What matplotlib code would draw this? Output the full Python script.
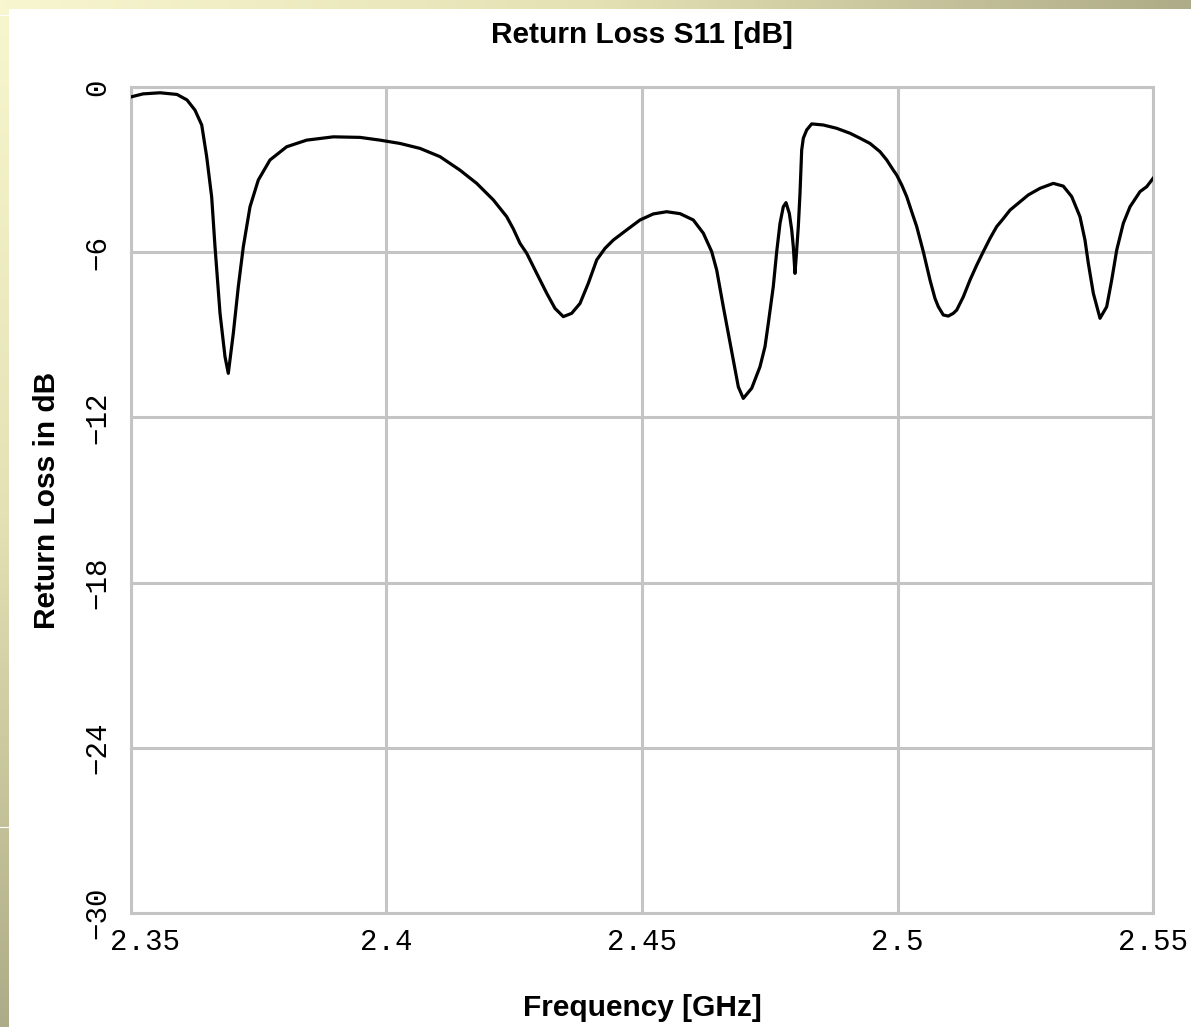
#!/usr/bin/env python3

import numpy as np
import matplotlib
matplotlib.use('Agg')
from matplotlib import pyplot as plt
from matplotlib.colors import LinearSegmentedColormap
import matplotlib.transforms as mtransforms


# S11 trace (GHz, dB)
FREQ = [
    2.35000, 2.35235, 2.35568, 2.35900, 2.36096, 2.36252, 2.36384, 2.36481,
    2.36579, 2.36644, 2.36742, 2.36840, 2.36904, 2.37002, 2.37100, 2.37198,
    2.37329, 2.37491, 2.37720, 2.38047, 2.38438, 2.38959, 2.39481, 2.39873,
    2.40264, 2.40656, 2.41047, 2.41438, 2.41765, 2.42090, 2.42352, 2.42481,
    2.42613, 2.42744, 2.42940, 2.43135, 2.43297, 2.43460, 2.43624, 2.43787,
    2.43949, 2.44114, 2.44276, 2.44438, 2.44701, 2.44961, 2.45221, 2.45483,
    2.45744, 2.46004, 2.46200, 2.46364, 2.46462, 2.46591, 2.46689, 2.46787,
    2.46885, 2.46982, 2.47147, 2.47309, 2.47407, 2.47472, 2.47569, 2.47636,
    2.47701, 2.47765, 2.47818, 2.47883, 2.47930, 2.47961, 2.47994, 2.48027,
    2.48059, 2.48092, 2.48125, 2.48157, 2.48223, 2.48321, 2.48548, 2.48810,
    2.49070, 2.49266, 2.49462, 2.49658, 2.49789, 2.49918, 2.49985, 2.50083,
    2.50180, 2.50278, 2.50376, 2.50505, 2.50636, 2.50734, 2.50799, 2.50896,
    2.50994, 2.51092, 2.51159, 2.51288, 2.51419, 2.51550, 2.51679, 2.51810,
    2.51941, 2.52071, 2.52202, 2.52397, 2.52560, 2.52789, 2.53049, 2.53244,
    2.53409, 2.53571, 2.53669, 2.53734, 2.53832, 2.53963, 2.54094, 2.54192,
    2.54290, 2.54419, 2.54550, 2.54746, 2.54877, 2.55000,
]
S11 = [
    -0.36, -0.25, -0.21, -0.27, -0.47, -0.84, -1.38, -2.53,
    -4.00, -5.80, -8.22, -9.80, -10.40, -8.95, -7.25, -5.80,
    -4.35, -3.38, -2.65, -2.17, -1.93, -1.81, -1.83, -1.93,
    -2.05, -2.23, -2.53, -3.02, -3.50, -4.10, -4.71, -5.15,
    -5.68, -6.04, -6.77, -7.49, -8.04, -8.34, -8.22, -7.86,
    -7.13, -6.28, -5.86, -5.56, -5.19, -4.83, -4.61, -4.53,
    -4.60, -4.83, -5.31, -5.98, -6.65, -7.98, -8.95, -9.92,
    -10.89, -11.31, -10.94, -10.16, -9.43, -8.58, -7.25, -5.98,
    -4.95, -4.35, -4.20, -4.59, -5.19, -5.80, -6.77, -5.92,
    -5.07, -3.86, -2.29, -1.86, -1.56, -1.34, -1.38, -1.50,
    -1.68, -1.86, -2.05, -2.35, -2.65, -3.02, -3.20, -3.56,
    -3.98, -4.53, -5.07, -5.98, -7.01, -7.68, -7.98, -8.28,
    -8.32, -8.22, -8.10, -7.62, -7.01, -6.47, -5.98, -5.50,
    -5.07, -4.78, -4.47, -4.17, -3.92, -3.68, -3.50, -3.60,
    -3.98, -4.71, -5.56, -6.40, -7.49, -8.40, -7.98, -7.01,
    -5.92, -4.95, -4.35, -3.80, -3.62, -3.32,
]

X_TICKS = [2.35, 2.4, 2.45, 2.5, 2.55]
X_TICK_LABELS = ['2.35', '2.4', '2.45', '2.5', '2.55']
Y_TICKS = [0, -6, -12, -18, -24, -30]
Y_TICK_LABELS = ['0', '\u22126', '\u221212', '\u221218', '\u221224', '\u221230']

GRID_COLOR = '#c4c4c4'
TICK_FONT = 'Liberation Mono'
LABEL_FONT = 'Liberation Sans'
LABEL_SIZE = 21.5

W, H = 1191, 1027
fig = plt.figure(figsize=(W / 100, H / 100), dpi=100)
fig.patch.set_facecolor('white')

# slide background strips (top and left edges)
band = LinearSegmentedColormap.from_list('band', ['#f8f6cf', '#e4e1b4', '#aeac88'])
grad = np.linspace(0, 1, 256)
ax_top = fig.add_axes([0, 1 - 9 / H, 1, 9 / H])
ax_top.imshow(grad[None, :], aspect='auto', cmap=band, extent=(0, 1, 0, 1))
ax_top.axis('off')
ax_left = fig.add_axes([0, 0, 9 / W, 1 - 9 / H])
ax_left.imshow(grad[:, None], aspect='auto', cmap=band, extent=(0, 1, 0, 1), origin='upper')
ax_left.axhline(1 - 6 / (H - 9), color='white', lw=0.8)
ax_left.axhline(1 - 818 / (H - 9), color='white', lw=0.8)
ax_left.axis('off')

ax = fig.add_axes([131 / W, 1 - 913 / H, (1153 - 131) / W, (913 - 87) / H])
ax.plot(FREQ, S11, color='black', lw=2.3, solid_joinstyle='round', zorder=3)

ax.set_xlim(2.35, 2.55)
ax.set_ylim(-30, 0)
ax.set_xticks(X_TICKS)
ax.set_xticklabels(X_TICK_LABELS, fontfamily=TICK_FONT, fontsize=21)
ax.set_yticks(Y_TICKS)
ax.set_yticklabels(Y_TICK_LABELS, fontfamily=TICK_FONT, fontsize=21,
                   rotation=90, va='center')
ax.tick_params(axis='both', length=0)
ax.tick_params(axis='x', pad=11)
ax.tick_params(axis='y', pad=14)
ax.grid(True, color=GRID_COLOR, lw=2.2, zorder=1)
for sp in ax.spines.values():
    sp.set_color(GRID_COLOR)
    sp.set_linewidth(2.2)

ax.set_title('Return Loss S11 [dB]', fontfamily=LABEL_FONT, fontweight='bold',
             fontsize=LABEL_SIZE, pad=32)
ax.set_xlabel('Frequency [GHz]', fontfamily=LABEL_FONT, fontweight='bold',
              fontsize=LABEL_SIZE, labelpad=27)
ax.set_ylabel('Return Loss in dB', fontfamily=LABEL_FONT, fontweight='bold',
              fontsize=LABEL_SIZE, labelpad=16)

# first x label sits a bit to the right of its tick
fig.canvas.draw()
first = ax.get_xticklabels()[0]
first.set_transform(first.get_transform() +
                    mtransforms.ScaledTranslation(0.14, 0, fig.dpi_scale_trans))

fig.savefig('out.png', dpi=100)
